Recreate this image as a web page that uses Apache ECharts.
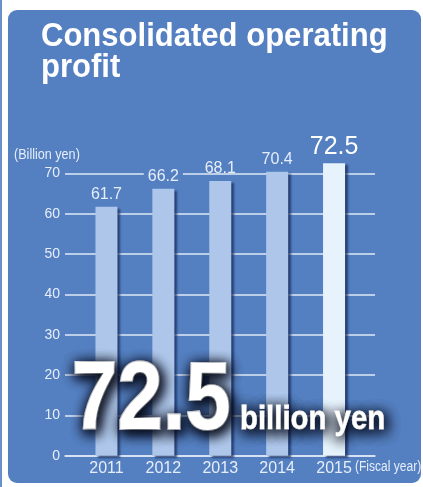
<!DOCTYPE html>
<html>
<head>
<meta charset="utf-8">
<script src="https://cdn.jsdelivr.net/npm/echarts@6/dist/echarts.min.js"></script>
<style>
  html, body { margin: 0; padding: 0; background: #ffffff; }
  #chart { width: 423px; height: 487px; }
</style>
</head>
<body>
<div id="chart"></div>
<script>
// Consolidated operating profit, fiscal years 2011-2015 (billion yen)
const categories = ['2011', '2012', '2013', '2014', '2015'];
const profit = [61.7, 66.2, 68.1, 70.4, 72.5];
const yTickMax = 70;
const yTickStep = 10;

const PANEL = '#547fc0';
const SANS = '"Liberation Sans", Arial, sans-serif';

const latest = profit[profit.length - 1];

const barData = profit.map(function (v, i) {
  const isLast = i === profit.length - 1;
  const item = {
    value: v,
    itemStyle: { color: isLast ? '#e6f3fd' : '#adc6e9' }
  };
  if (isLast) {
    item.label = { fontSize: 25, color: '#ffffff' };
  }
  // keep the 70 gridline clear behind this label
  if (i === 1) {
    item.label = { backgroundColor: PANEL, padding: [0, 4, 0, 4] };
  }
  return item;
});

// condensed look: regular face squeezed horizontally
function narrowText(x, y, text, font, squeeze, fill, z) {
  return {
    type: 'text', x: x, y: y, z: z, scaleX: squeeze,
    style: { text: text, font: font, fill: fill, align: 'left', verticalAlign: 'middle' }
  };
}

function haloText(x, y, text, font, squeeze, weight, z) {
  return {
    type: 'text', x: x, y: y, z: z, scaleX: squeeze,
    style: {
      text: text, font: font, fill: '#ffffff',
      stroke: '#ffffff', lineWidth: weight,
      align: 'left', verticalAlign: 'middle',
      textShadowColor: 'rgba(5,8,22,1)',
      textShadowBlur: 13,
      textShadowOffsetX: 2,
      textShadowOffsetY: 3
    }
  };
}

const chart = echarts.init(document.getElementById('chart'), null, { renderer: 'canvas' });

chart.setOption({
  backgroundColor: '#ffffff',
  animation: false,
  grid: [
    // gridlines and value labels
    { left: 65, right: 48, top: 173.3, bottom: 31.3 },
    // bars (same vertical scale, extended to 80 so the 2015 bar fits)
    { left: 78, right: 60.5, top: 133, bottom: 31.3 }
  ],
  xAxis: [
    {
      gridIndex: 0, type: 'value', min: 0, max: 1,
      axisLine: { show: true, lineStyle: { color: '#dfe8f6', width: 1.5 } },
      axisTick: { show: false }, axisLabel: { show: false }, splitLine: { show: false }
    },
    {
      gridIndex: 1, type: 'category', data: categories,
      axisLine: { show: false }, axisTick: { show: false },
      axisLabel: { color: '#e6eefa', fontSize: 16, fontFamily: SANS, margin: 5 }
    }
  ],
  yAxis: [
    {
      gridIndex: 0, type: 'value', min: 0, max: yTickMax, interval: yTickStep,
      axisLine: { show: false }, axisTick: { show: false },
      axisLabel: { color: '#e6eefa', fontSize: 14, fontFamily: SANS, margin: 5 },
      splitLine: { show: true, lineStyle: { color: '#dfe8f6', width: 1.5 } }
    },
    {
      gridIndex: 1, type: 'value', min: 0, max: 80, show: false
    }
  ],
  series: [
    {
      type: 'bar',
      xAxisIndex: 1, yAxisIndex: 1,
      barWidth: 22,
      data: barData,
      z: 3,
      itemStyle: {
        shadowColor: 'rgba(25,45,95,0.75)',
        shadowBlur: 2,
        shadowOffsetX: 3,
        shadowOffsetY: 2
      },
      label: {
        show: true, position: 'top', distance: 4,
        color: '#e6eefa', fontSize: 16, fontFamily: SANS
      }
    }
  ],
  graphic: [
    // adjoining panel edge and the main panel
    { type: 'rect', z: -100, shape: { x: 0, y: 0, width: 2, height: 487 }, style: { fill: '#6a90cb' } },
    { type: 'rect', z: -100, shape: { x: 8, y: 10, width: 413, height: 473, r: 9 }, style: { fill: PANEL } },
    narrowText(41, 36.6, 'Consolidated operating', 'bold 32.5px ' + SANS, 0.955, '#ffffff', 10),
    narrowText(41, 68.2, 'profit', 'bold 32.5px ' + SANS, 0.955, '#ffffff', 10),
    narrowText(14, 155, '(Billion yen)', '14px ' + SANS, 0.9, '#e6eefa', 10),
    narrowText(355, 467, '(Fiscal year)', '14px ' + SANS, 0.86, '#e6eefa', 10),
    haloText(72, 403, latest.toFixed(1), 'bold 96px ' + SANS, 0.85, 2, 50),
    haloText(240, 419.5, 'billion yen', 'bold 33px ' + SANS, 0.89, 0.8, 50),
    haloText(72, 403, latest.toFixed(1), 'bold 96px ' + SANS, 0.85, 2, 51),
    haloText(240, 419.5, 'billion yen', 'bold 33px ' + SANS, 0.89, 0.8, 51)
  ]
});
</script>
</body>
</html>
